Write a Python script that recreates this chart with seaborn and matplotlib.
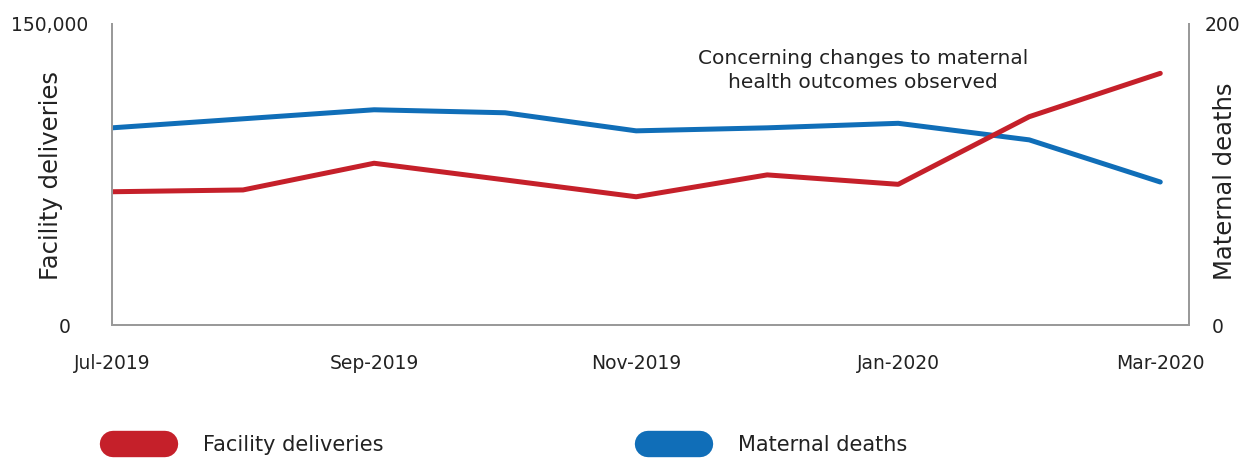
import matplotlib
matplotlib.use("Agg")
import matplotlib.pyplot as plt
from matplotlib.lines import Line2D
from matplotlib.transforms import ScaledTranslation
import numpy as np
import pandas as pd
import seaborn as sns

months = ["Jul-2019", "Aug-2019", "Sep-2019", "Oct-2019", "Nov-2019",
          "Dec-2019", "Jan-2020", "Feb-2020", "Mar-2020"]
facility_deliveries = [66400, 67300, 80600, 72300, 63900, 74800, 70100, 103800, 125400]
maternal_deaths = [131, 137, 143, 141, 129, 131, 134, 123, 95]
shown_month_labels = ["Jul-2019", "Sep-2019", "Nov-2019", "Jan-2020", "Mar-2020"]
left_ticks = [0, 150000]
left_tick_labels = ["0", "150,000"]
right_ticks = [0, 200]
right_tick_labels = ["0", "200"]

RED = "#C5202A"
BLUE = "#106EB8"
TEXT = "#222222"
SPINE = "#9A9A9A"

sns.set_theme(style="white")
plt.rcParams["font.family"] = ["DejaVu Sans"]

df = pd.DataFrame({
    "pos": np.arange(len(months)),
    "month": months,
    "deliveries": facility_deliveries,
    "deaths": maternal_deaths,
})

fig = plt.figure(figsize=(12.53, 4.61), dpi=100)
ax = fig.add_axes([0.0894, 0.295, 0.8596, 0.653])
ax2 = ax.twinx()

sns.lineplot(data=df, x="pos", y="deliveries", ax=ax, color=RED, lw=3.6,
             solid_capstyle="round", solid_joinstyle="round", legend=False)
sns.lineplot(data=df, x="pos", y="deaths", ax=ax2, color=BLUE, lw=3.6,
             solid_capstyle="round", solid_joinstyle="round", legend=False)
ax2.set_zorder(ax.get_zorder() - 1)
ax.patch.set_visible(False)

ax.set_xlim(0, 8.22)
ax.set_ylim(0, 150000)
ax2.set_ylim(0, 200)

pos_of = {m: i for i, m in enumerate(months)}
ax.set_xticks([pos_of[m] for m in shown_month_labels])
ax.set_xticklabels(shown_month_labels, fontsize=13.5, color=TEXT)
ax.set_yticks(left_ticks)
ax.set_yticklabels(left_tick_labels, fontsize=13.5, color=TEXT)
ax2.set_yticks(right_ticks)
ax2.set_yticklabels(right_tick_labels, fontsize=13.5, color=TEXT)

ax.tick_params(axis="x", length=0, pad=21)
ax.tick_params(axis="y", length=0, pad=17)
ax2.tick_params(axis="y", length=0, pad=11)

# nudge the zero labels the way the axes are labelled
for lab in ax.get_yticklabels():
    if lab.get_text() == "0":
        lab.set_transform(lab.get_transform() + ScaledTranslation(-0.18, 0, fig.dpi_scale_trans))
for lab in ax2.get_yticklabels():
    if lab.get_text() == "0":
        lab.set_transform(lab.get_transform() + ScaledTranslation(0.07, 0, fig.dpi_scale_trans))

ax.set_xlabel("")
ax.set_ylabel("Facility deliveries", fontsize=17.5, color=TEXT)
ax2.set_ylabel("Maternal deaths", fontsize=17.5, color=TEXT)
ax.yaxis.set_label_coords(-0.0455, 0.498)
ax2.yaxis.set_label_coords(1.022, 0.478)

for a in (ax, ax2):
    a.spines["top"].set_visible(False)
    for s in ("left", "right", "bottom"):
        a.spines[s].set_color(SPINE)
        a.spines[s].set_linewidth(1.4)

ax.text(5.73, 0.845, "Concerning changes to maternal\nhealth outcomes observed",
        transform=ax.get_xaxis_transform(), ha="center", va="center",
        fontsize=14.5, color=TEXT, linespacing=1.32)

# pill-shaped legend keys
h_red = Line2D([], [], color=RED, lw=19, solid_capstyle="round")
h_blue = Line2D([], [], color=BLUE, lw=19, solid_capstyle="round")
for handle, label, x in ((h_red, "Facility deliveries", 0.0904),
                         (h_blue, "Maternal deaths", 0.5174)):
    fig.legend([handle], [label], loc="center left", bbox_to_anchor=(x, 0.035),
               frameon=False, fontsize=15, handlelength=2.5, handletextpad=1.8,
               labelcolor=TEXT, borderaxespad=0, borderpad=0)

fig.savefig("out.png", dpi=100)
